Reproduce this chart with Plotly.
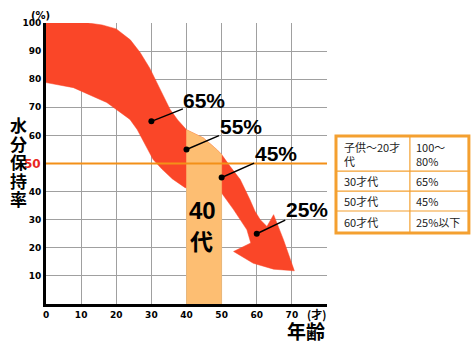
import plotly.graph_objects as go

# Water retention (%) at the labelled ages
ages = [30, 40, 50, 60]
rates = [65, 55, 45, 25]

# Outline of the falling arrow (age, %), clockwise from the top-left
arrow_x = [0, 12, 16, 20, 24, 26.8, 29.5, 31.5, 33.5, 35.3, 37.5, 40, 42.5, 44.8, 48.6, 50,
           52.4, 55.3, 58.1, 59.5, 61, 62.9, 64.8, 67.6, 70.7, 64.8, 59, 53.4, 58.3, 57.2,
           53.4, 50, 45, 39.6, 36, 33, 30.5, 28, 26, 23.9, 17.3, 7.8, 0]
arrow_y = [100, 100, 99.3, 97.9, 94, 89.5, 84, 78.8, 73.5, 69.3, 65.5, 62, 60.5, 59.1, 55, 53.2,
           49, 44.3, 37, 33, 30, 27.6, 31.8, 22.9, 11.8, 12.4, 14.5, 18.7, 21.7, 26.4,
           33.6, 39.5, 40.5, 41.4, 44.5, 48, 51.4, 57, 62, 65.7, 71.7, 77, 78.8]

# The highlighted forties band, capped by the top edge of the arrow
band_x = [40, 40, 42.5, 44.8, 48.6, 50, 50]
band_y = [0, 62, 60.5, 59.1, 55, 53.2, 0]

# Reference line and axis ticks
threshold = 50
x_ticks = [0, 10, 20, 30, 40, 50, 60, 70, 80]
x_tick_text = ["0", "10", "20", "30", "40", "50", "60", "70", ""]
y_ticks = [10, 20, 30, 40, 50, 60, 70, 80, 90, 100]
y_tick_text = ["10", "20", "30", "40", "", "60", "70", "80", "90", "100"]

# Summary table
table_ages = ["子供～20才<br>代", "30才代", "50才代", "60才代"]
table_rates = ["100～<br>80%", "65%", "45%", "25%以下"]

RED = "#FA4628"
BAND = "#FDBE72"
ORANGE = "#F39018"
TABLE_LINE = "#F4A030"
LATIN = "Liberation Sans, Arial, sans-serif"
CJK = "Noto Sans CJK JP, sans-serif"

fig = go.Figure()
fig.add_trace(go.Scatter(x=arrow_x, y=arrow_y, mode="lines", fill="toself",
                         fillcolor=RED, line=dict(color=RED, width=0.5),
                         hoverinfo="skip"))
fig.add_trace(go.Scatter(x=band_x, y=band_y, mode="lines", fill="toself",
                         fillcolor=BAND, line=dict(color=BAND, width=0.5),
                         hoverinfo="skip"))
fig.add_trace(go.Scatter(x=ages, y=rates, mode="markers",
                         marker=dict(size=6, color="black"), hoverinfo="skip"))

# 50% reference line over the marks
fig.add_shape(type="line", xref="x", yref="y", x0=0, x1=80, y0=threshold, y1=threshold,
              line=dict(color=ORANGE, width=2), layer="above")

annotations = []
# Callouts pointing at each sample point
label_offsets = [(53, -21), (54, -23), (54, -24), (50, -24)]
for a, r, (dx, dy) in zip(ages, rates, label_offsets):
    annotations.append(dict(x=a, y=r, xref="x", yref="y", text=f"{r}%",
                            showarrow=True, arrowhead=0, arrowwidth=1.5,
                            arrowcolor="black", ax=dx, ay=dy, borderpad=0,
                            font=dict(family=LATIN, size=21, color="black", weight="bold")))

# "40代" inside the band
annotations.append(dict(x=44.6, y=33.2, xref="x", yref="y", text="40", showarrow=False,
                        font=dict(family=LATIN, size=24, color="black", weight="bold")))
annotations.append(dict(x=44.4, y=22.8, xref="x", yref="y", text="代", showarrow=False,
                        font=dict(family=CJK, size=23, color="black", weight="bold")))

# Red tick label for the 50% line
annotations.append(dict(x=0, y=threshold, xref="paper", yref="y", text="50",
                        showarrow=False, xanchor="right", yanchor="middle", xshift=-3,
                        font=dict(family="DejaVu Sans", size=12, color="#E8281E", weight="bold")))

# Vertical axis title, one character per line
for ch, yv in zip("水分保持率", [63.8, 57.2, 50.6, 44.0, 37.5]):
    annotations.append(dict(x=0, y=yv, xref="paper", yref="y", text=ch, showarrow=False,
                            xanchor="center", yanchor="middle", xshift=-28,
                            font=dict(family=CJK, size=17, color="black", weight="bold")))

# Units and horizontal axis title
annotations.append(dict(x=-0.021, y=1.027, xref="paper", yref="paper", text="(%)",
                        showarrow=False, xanchor="center", yanchor="middle",
                        font=dict(family="DejaVu Sans", size=10, color="black", weight="bold")))
annotations.append(dict(x=0.964, y=-0.036, xref="paper", yref="paper", text="(才)",
                        showarrow=False, xanchor="center", yanchor="middle",
                        font=dict(family=CJK, size=11, color="black", weight="bold")))
annotations.append(dict(x=0.925, y=-0.093, xref="paper", yref="paper", text="年齢",
                        showarrow=False, xanchor="center", yanchor="middle",
                        font=dict(family=CJK, size=19, color="black", weight="bold")))

# Table frame and cell dividers (paper coordinates, right of the plot)
tx0, tx1, tmid = 1.032, 1.505, 1.295
ty_top, ty_bot = 0.598, 0.253
row_lines = [0.473, 0.402, 0.331]
fig.add_shape(type="rect", xref="paper", yref="paper", x0=tx0, x1=tx1, y0=ty_bot, y1=ty_top,
              line=dict(color=TABLE_LINE, width=3), fillcolor="white", layer="below")
fig.add_shape(type="line", xref="paper", yref="paper", x0=tmid, x1=tmid, y0=ty_bot, y1=ty_top,
              line=dict(color=TABLE_LINE, width=1.2))
for yl in row_lines:
    fig.add_shape(type="line", xref="paper", yref="paper", x0=tx0, x1=tx1, y0=yl, y1=yl,
                  line=dict(color=TABLE_LINE, width=1.2))

row_bounds = [ty_top] + row_lines + [ty_bot]
for i, (age_txt, rate_txt) in enumerate(zip(table_ages, table_rates)):
    yc = (row_bounds[i] + row_bounds[i + 1]) / 2
    for xc, txt in ((tx0 + 0.021, age_txt), (tmid + 0.015, rate_txt)):
        annotations.append(dict(x=xc, y=yc, xref="paper", yref="paper", text=txt,
                                showarrow=False, xanchor="left", yanchor="middle",
                                align="left",
                                font=dict(family=CJK, size=11, color="#222222")))

fig.update_layout(
    width=473, height=343,
    margin=dict(l=46, r=146, t=23, b=39),
    paper_bgcolor="white", plot_bgcolor="white",
    showlegend=False,
    annotations=annotations,
    xaxis=dict(range=[0, 80], tickvals=x_ticks, ticktext=x_tick_text,
               showgrid=True, gridcolor="#A0A0A0", gridwidth=1, zeroline=False,
               showline=True, linecolor="black", linewidth=3, ticks="",
               tickfont=dict(family="DejaVu Sans", size=9, color="black", weight="bold"),
               fixedrange=True),
    yaxis=dict(range=[0, 100], tickvals=y_ticks, ticktext=y_tick_text,
               showgrid=True, gridcolor="#A0A0A0", gridwidth=1, zeroline=False,
               showline=True, linecolor="black", linewidth=3, ticks="",
               tickfont=dict(family="DejaVu Sans", size=9, color="black", weight="bold"),
               fixedrange=True),
)

fig.write_html("out.html", config={"displayModeBar": False})
